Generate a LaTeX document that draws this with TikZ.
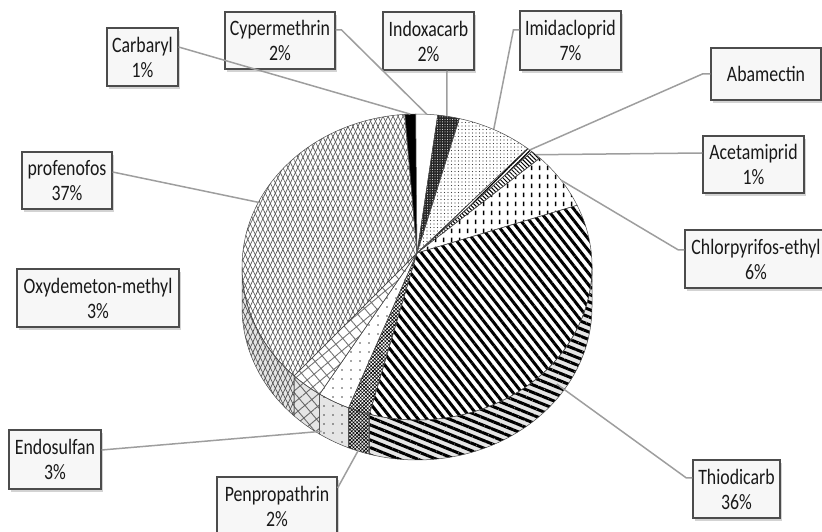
\documentclass[tikz,border=0pt]{standalone}
\usepackage{fontspec}
\setmainfont{Carlito}[FakeStretch=0.81]
\usetikzlibrary{patterns, patterns.meta, shadows, calc}

% short vertical dashes for chlorpyrifos
\pgfdeclarepatternformonly{vdash}{\pgfpointorigin}{\pgfpoint{8pt}{9pt}}{\pgfpoint{8pt}{9pt}}{%
  \pgfsetlinewidth{1.8pt}\pgfpathmoveto{\pgfpoint{4pt}{2pt}}\pgfpathlineto{\pgfpoint{4pt}{7pt}}\pgfusepath{stroke}}

\newcommand{\topslice}[3]{\filldraw[slice, #3] (apex) -- ($(C)+(#1:175 and 153)$) arc[start angle=#1, end angle=#2, x radius=175, y radius=153] -- cycle;}
\newcommand{\sideslice}[3]{\filldraw[slice, #3, postaction={fill=black, fill opacity=.1}] ($(C)+(#1:175 and 153)$) arc[start angle=#1, end angle=#2, x radius=175, y radius=153] -- ++(0,-40) arc[start angle=#2, end angle=#1, x radius=175, y radius=153] -- cycle;}

\tikzset{
  slice/.style={draw=black!70, line width=.5pt},
  carb/.style={fill=black},
  cyp/.style={fill=white},
  indo/.style={preaction={fill=black!85}, pattern={Dots[distance=2.5pt, radius=.5pt]}, pattern color=white},
  imi/.style={pattern={Dots[distance=3.5pt, radius=.65pt]}, pattern color=black!75},
  aba/.style={pattern={Lines[angle=45, distance=3pt, line width=1.3pt]}, pattern color=black},
  ace/.style={pattern={Lines[angle=-45, distance=3pt, line width=1pt]}, pattern color=black},
  chl/.style={pattern=vdash, pattern color=black},
  thio/.style={pattern={Lines[angle=-52, distance=7pt, line width=3pt]}, pattern color=black},
  thioside/.style={pattern={Lines[angle=-22, distance=7pt, line width=3pt]}, pattern color=black},
  penp/.style={pattern={Hatch[angle=45, distance=2.5pt, line width=.6pt]}, pattern color=black},
  endo/.style={pattern={Dots[distance=9pt, radius=.8pt]}, pattern color=black!70},
  oxy/.style={pattern={Hatch[angle=40, distance=9pt, line width=.9pt]}, pattern color=black!55},
  prof/.style={preaction={pattern={Lines[angle=64, distance=4.5pt, line width=.7pt]}, pattern color=black!65},
    pattern={Lines[angle=116, distance=4.5pt, line width=.7pt]}, pattern color=black!65},
  lbl/.style={draw=black!70, line width=1.2pt, fill=black!3, align=center, inner sep=0pt,
    font=\fontsize{22}{25}\selectfont, text=black!90,
    drop shadow={shadow xshift=2pt, shadow yshift=-3pt, opacity=.35, fill=black!50}},
  lead/.style={draw=black!38, line width=1.5pt}
}

\begin{document}
\begin{tikzpicture}[x=1pt, y=1pt]
\useasboundingbox (0,0) rectangle (822,532);
\coordinate (C) at (417,265);
\coordinate (apex) at (417,279);

% side of the pie
\sideslice{0}{-105.8}{thioside}
\sideslice{-105.8}{-113}{penp}
\sideslice{-113}{-123.8}{endo}
\sideslice{-123.8}{-134.6}{oxy}
\sideslice{-134.6}{-180}{prof}

% top of the pie
\topslice{94}{90.4}{carb}
\topslice{90.4}{83.2}{cyp}
\topslice{83.2}{76}{indo}
\topslice{76}{50.8}{imi}
\topslice{50.8}{49}{aba}
\topslice{49}{45.4}{ace}
\topslice{45.4}{23.8}{chl}
\topslice{23.8}{-105.8}{thio}
\topslice{-105.8}{-113}{penp}
\topslice{-113}{-123.8}{endo}
\topslice{-123.8}{-134.6}{oxy}
\topslice{-134.6}{-266}{prof}

% where the leaders meet the pie
\coordinate (pCarb) at ($(C)+(92.2:175 and 153)$);
\coordinate (pCyp) at ($(C)+(86.8:175 and 153)$);
\coordinate (pInd) at ($(C)+(80.2:175 and 153)$);
\coordinate (pImi) at ($(C)+(64:175 and 153)$);
\coordinate (pAba) at ($(C)+(49.9:175 and 153)$);
\coordinate (pAce) at ($(C)+(47.2:175 and 153)$);
\coordinate (pChl) at ($(C)+(34.6:175 and 153)$);
\coordinate (pThi) at ($(C)+(-37:175 and 153)+(0,-25)$);
\coordinate (pPen) at ($(C)+(-109.4:175 and 153)+(0,-38)$);
\coordinate (pEnd) at ($(C)+(-123:175 and 153)+(0,-36)$);
\coordinate (pPro) at ($(C)+(155:175 and 153)$);

% labels
\node[lbl, minimum width=71, minimum height=58] (carb) at (142.5,475) {Carbaryl\\1\%};
\node[lbl, minimum width=110, minimum height=57] (cyp) at (280,491.5) {Cypermethrin\\2\%};
\node[lbl, minimum width=91, minimum height=58] (ind) at (428.5,491) {Indoxacarb\\2\%};
\node[lbl, minimum width=101, minimum height=59] (imi) at (570.5,491.5) {Imidacloprid\\7\%};
\node[lbl, minimum width=110, minimum height=52] (aba) at (766,458) {Abamectin};
\node[lbl, minimum width=101, minimum height=57] (ace) at (753.5,367.5) {Acetamiprid\\1\%};
\node[lbl, minimum width=142, minimum height=58] (chl) at (756,273) {Chlorpyrifos-ethyl\\6\%};
\node[lbl, minimum width=90, minimum height=57] (pro) at (67,351.5) {profenofos\\37\%};
\node[lbl, minimum width=162, minimum height=58] (oxy) at (98,234) {Oxydemeton-methyl\\3\%};
\node[lbl, minimum width=92, minimum height=59] (endo) at (55,72.5) {Endosulfan\\3\%};
\node[lbl, minimum width=120, minimum height=58] (pen) at (277,26) {Penpropathrin\\2\%};
\node[lbl, minimum width=87, minimum height=58] (thi) at (736.5,43) {Thiodicarb\\36\%};

% leaders
\draw[lead] ([yshift=10]carb.east) -- (pCarb);
\draw[lead] ([yshift=10.5]cyp.east) -- ++(6,0) -- (pCyp);
\draw[lead] ([xshift=18.5]ind.south) -- (pInd);
\draw[lead] ([yshift=10.5]imi.west) -- ++(-6,0) -- (pImi);
\draw[lead] (aba.west) -- ++(-8,0) -- (pAba);
\draw[lead] ([yshift=11.5]ace.west) -- (pAce);
\draw[lead] ([yshift=9]chl.west) -- ++(-6,0) -- (pChl);
\draw[lead] ([yshift=8.5]pro.east) -- (pPro);
\draw[lead] ([yshift=9.5]endo.east) -- (pEnd);
\draw[lead] ([yshift=18]pen.east) -- (pPen);
\draw[lead] ([yshift=11]thi.west) -- ++(-6,0) -- (pThi);
\end{tikzpicture}
\end{document}
